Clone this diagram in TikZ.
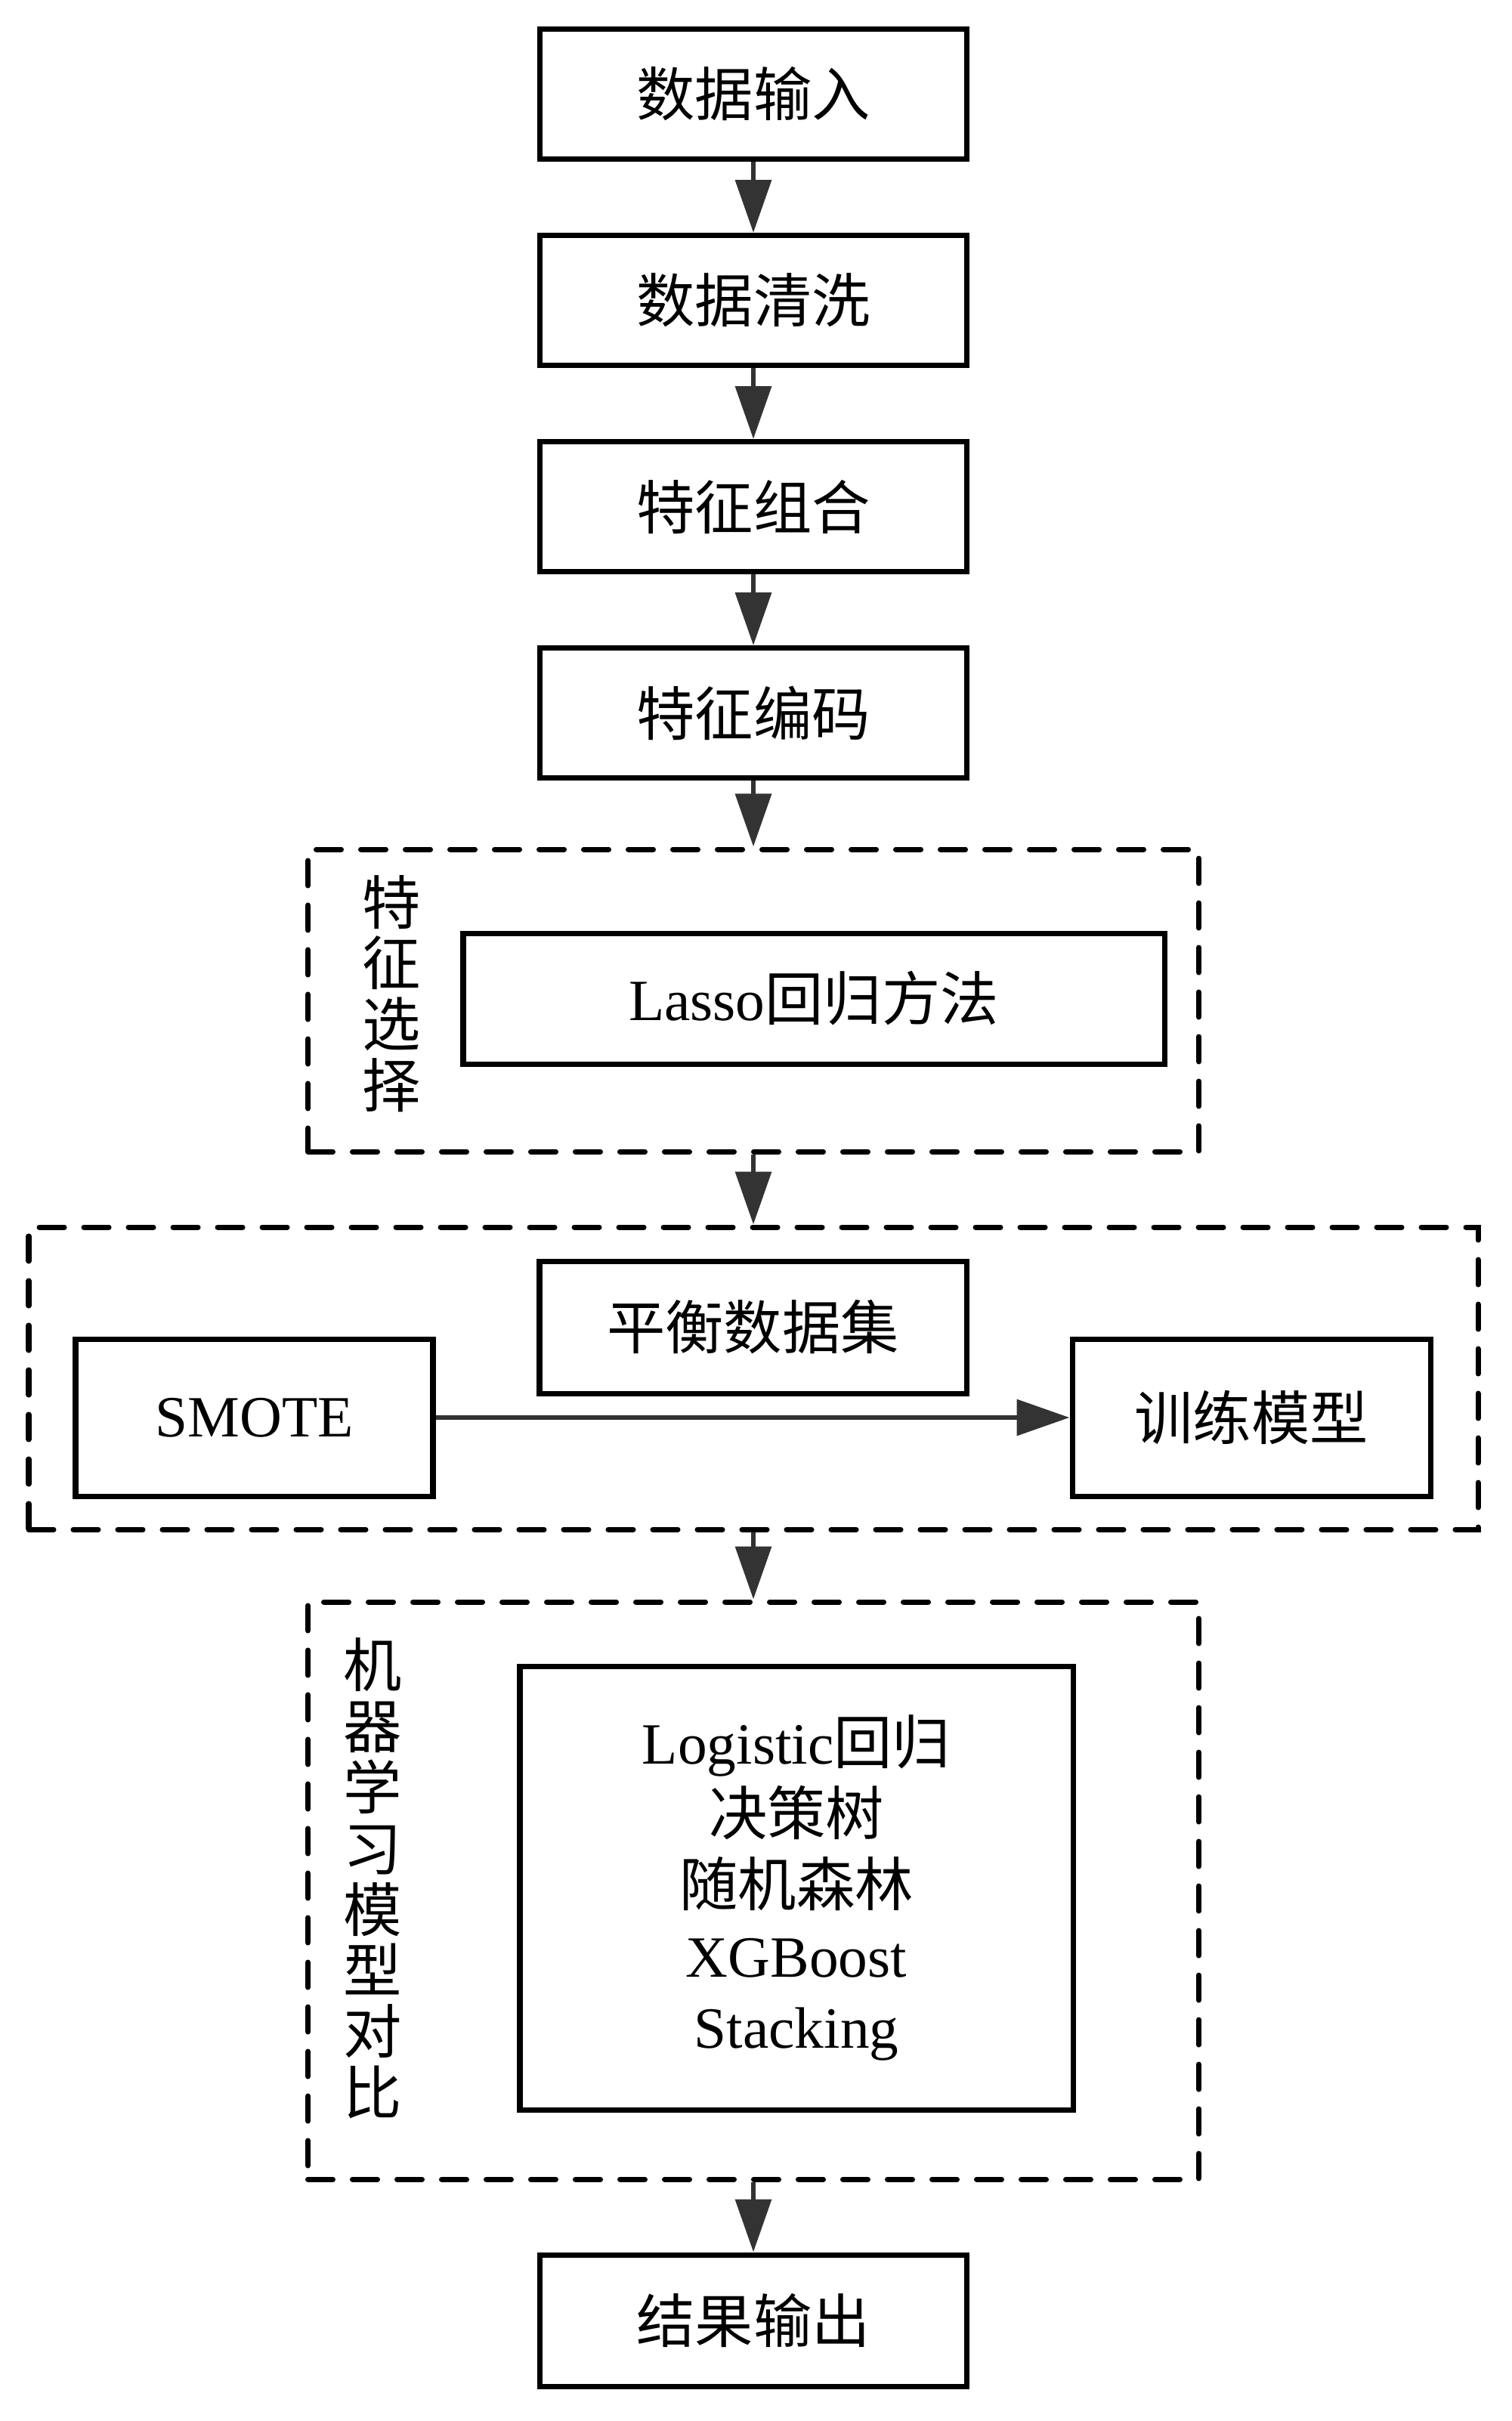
\documentclass[tikz,border=0pt]{standalone}
\usepackage{fontspec}
\setmainfont{Liberation Serif}
\newfontfamily\cjk{Noto Sans CJK SC}
\usetikzlibrary{arrows.meta,positioning}
\definecolor{arrowgray}{HTML}{333333}

\begin{document}
\begin{tikzpicture}[
	box/.style={draw, line width=2pt, minimum width=5.65cm, minimum height=1.72cm,
		font=\cjk\fontsize{22}{26}\selectfont},
	dashbox/.style={draw, line width=2pt, line cap=round, dash pattern=on 0.33cm off 0.26cm},
	vlabel/.style={align=center, font=\cjk\fontsize{22}{23}\selectfont},
	flow/.style={line width=1.9pt, draw=arrowgray, -{Triangle[length=0.7cm,width=0.47cm]}},
	node distance=0.94cm]
	\useasboundingbox (0,0) rectangle (20,-32.04);
	% main chain
	\node[box] (input) at (9.97,-1.245) {数据输入};
	\node[box, below=of input] (clean) {数据清洗};
	\node[box, below=of clean] (combine) {特征组合};
	\node[box, below=of combine] (encode) {特征编码};
	% feature selection
	\node[dashbox, minimum width=11.79cm, minimum height=4cm] (select) at (9.97,-13.24) {};
	\node[box, minimum width=9.28cm, minimum height=1.73cm] (lasso) at (10.77,-13.215) {{\rmfamily Lasso}回归方法};
	\node[vlabel] (sellabel) at (5.18,-13.15) {特\\征\\选\\择};
	% balancing
	\node[dashbox, minimum width=19.18cm, minimum height=4cm] (balance) at (9.97,-18.24) {};
	\node[box, minimum height=1.75cm] (dataset) at (9.965,-17.565) {平衡数据集};
	\node[box, minimum width=4.73cm, minimum height=2.08cm, font=\fontsize{22}{26}\selectfont] (smote) at (3.365,-18.76) {SMOTE};
	\node[box, minimum width=4.74cm, minimum height=2.08cm] (train) at (16.56,-18.76) {训练模型};
	% model comparison
	\node[dashbox, minimum width=11.79cm, minimum height=7.64cm] (compare) at (9.97,-25.02) {};
	\node[box, minimum width=7.32cm, minimum height=5.87cm, align=center,
		font=\fontsize{22}{26.7}\selectfont] (models) at (10.54,-24.985)
		{Logistic{\cjk 回归}\\{\cjk 决策树}\\{\cjk 随机森林}\\XGBoost\\Stacking};
	\node[vlabel] (cmplabel) at (4.93,-24.86) {机\\器\\学\\习\\模\\型\\对\\比};
	\node[box, minimum height=1.74cm] (output) at (9.97,-30.71) {结果输出};
	% arrows
	\foreach \a/\b in {input/clean, clean/combine, combine/encode, encode/select,
		select/balance, balance/compare, compare/output}
		\draw[flow] (\a.south) -- (\b.north);
	\draw[flow] (smote.east) -- (train.west);
\end{tikzpicture}
\end{document}
